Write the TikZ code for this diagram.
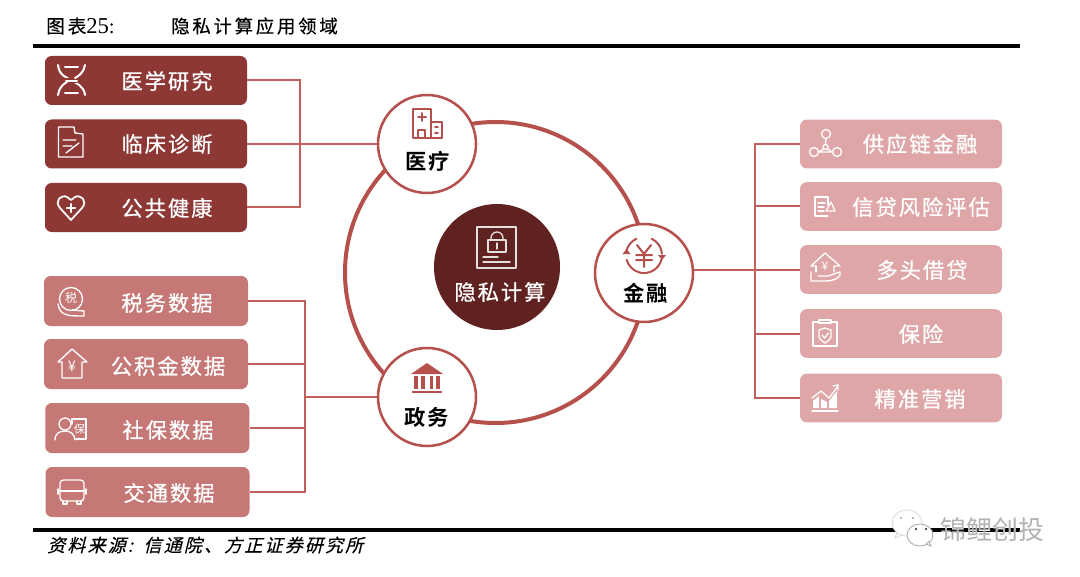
\documentclass[tikz,border=0pt]{standalone}
\usepackage{fontspec}
\setmainfont{Noto Sans CJK SC}
\newfontfamily\boxfont[LetterSpace=9,FakeBold=0.7]{Noto Sans CJK SC}
\newfontfamily\lblfont[LetterSpace=8,BoldFont={Noto Sans CJK SC Bold}]{Noto Sans CJK SC}
\newfontfamily\ttlfont[LetterSpace=15,FakeBold=0.3]{Noto Sans CJK SC}
\newfontfamily\srcfont[LetterSpace=12,FakeSlant=0.25,FakeBold=0.3]{Noto Sans CJK SC}
\newfontfamily\serfont{Liberation Serif}
\definecolor{darkbox}{HTML}{8E3836}
\definecolor{midbox}{HTML}{C57875}
\definecolor{lightbox}{HTML}{DFA6A7}
\definecolor{corecol}{HTML}{5F2220}
\definecolor{linecol}{HTML}{C0605C}
\definecolor{ringcol}{HTML}{B5504C}
\tikzset{
  boxbase/.style={rectangle,rounded corners=5pt,inner sep=0pt,minimum width=151.5pt},
  darkb/.style={boxbase,fill=darkbox,minimum height=36.75pt},
  midb/.style={boxbase,fill=midbox,minimum height=37.5pt,minimum width=153pt},
  lightb/.style={boxbase,fill=lightbox,minimum height=36.4pt},
  boxtext/.style={text=white,inner sep=0pt,font=\fontsize{16}{16}\boxfont},
  hub/.style={circle,draw=ringcol,line width=1.9pt,fill=white,minimum size=73.5pt,inner sep=0pt},
  hubtext/.style={text=black,inner sep=0pt,font=\fontsize{16}{16}\lblfont\bfseries},
  conn/.style={draw=linecol,line width=1.5pt},
  ic/.style={draw=white,line width=1pt,line cap=round,line join=round},
  icr/.style={draw=ringcol,line width=1.2pt,line cap=round,line join=round},
  rulel/.style={draw=black,line width=2.6pt},
}
\begin{document}
\begin{tikzpicture}[x=0.75pt,y=-0.75pt]
\useasboundingbox (0,0) rectangle (1080,577);
\fill[white] (0,0) rectangle (1080,577);
% header and footer
\coordinate (r1a) at (33,46); \coordinate (r1b) at (1020,46);
\coordinate (r2a) at (33,530); \coordinate (r2b) at (1020,530);
\draw[rulel] (r1a) -- (r1b);
\draw[rulel] (r2a) -- (r2b);
\node[anchor=west,inner sep=0pt,font=\fontsize{14}{14}\ttlfont] (ttl1) at (46,26) {图表{\serfont\fontsize{17}{17}\selectfont 25}:};
\node[anchor=west,inner sep=0pt,font=\fontsize{13.8}{13.8}\ttlfont] (ttl2) at (171,26) {隐私计算应用领域};
\node[anchor=west,inner sep=0pt,font=\fontsize{13.5}{13.5}\srcfont] (src) at (47,545) {资料来源:\hspace{8pt}信通院、方正证券研究所};
% ring
\node[circle,draw=ringcol,line width=3pt,minimum size=225.75pt,inner sep=0pt] (ring) at (495.5,272.5) {};
% hubs
\node[circle,fill=corecol,minimum size=94.5pt,inner sep=0pt] (core) at (497,267) {};
\node[hub] (med) at (427,144) {};
\node[hub] (fin) at (644,273) {};
\node[hub] (gov) at (427,397) {};
\node[text=white,inner sep=0pt,font=\fontsize{16}{16}\boxfont] (coret) at (500,292) {隐私计算};
\node[hubtext] (medt) at (428,161) {医疗};
\node[hubtext] (fint) at (646,293) {金融};
\node[hubtext] (govt) at (427,417) {政务};
% left top boxes
\node[darkb] (b1) at (146,80.5) {};
\node[darkb] (b2) at (146,144) {};
\node[darkb] (b3) at (146,207.5) {};
\node[boxtext] (b1t) at (167,81) {医学研究};
\node[boxtext] (b2t) at (167,144) {临床诊断};
\node[boxtext] (b3t) at (167,208) {公共健康};
% left bottom boxes
\node[midb] (g1) at (146,301) {};
\node[midb] (g2) at (146,364) {};
\node[midb] (g3) at (147.25,428) {};
\node[midb] (g4) at (147.5,492) {};
\node[boxtext] (g1t) at (167,303) {税务数据};
\node[boxtext] (g2t) at (168,366) {公积金数据};
\node[boxtext] (g3t) at (168,430) {社保数据};
\node[boxtext] (g4t) at (169,493) {交通数据};
% right boxes
\node[lightb] (f1) at (901,144) {};
\node[lightb] (f2) at (901,206.5) {};
\node[lightb] (f3) at (901,269.5) {};
\node[lightb] (f4) at (901,333.5) {};
\node[lightb] (f5) at (901,398) {};
\node[boxtext] (f1t) at (920,144) {供应链金融};
\node[boxtext] (f2t) at (921,207) {信贷风险评估};
\node[boxtext] (f3t) at (922,270) {多头借贷};
\node[boxtext] (f4t) at (921,334) {保险};
\node[boxtext] (f5t) at (920,399) {精准营销};
% connectors
\coordinate (busM) at (300,144);
\coordinate (busG) at (305,397);
\coordinate (busF) at (755,269.5);
\draw[conn] (b1.east) -| (busM);
\draw[conn] (b3.east) -| (busM);
\draw[conn] (b2.east) -- (med);
\draw[conn] (g1.east) -| (busG);
\draw[conn] (g4.east) -| (busG);
\draw[conn] (g2.east) -- (g2.east -| busG);
\draw[conn] (g3.east) -- (g3.east -| busG);
\draw[conn] (busG) -- (gov);
\draw[conn] (f1.west) -| (busF);
\draw[conn] (f5.west) -| (busF);
\draw[conn] (f2.west) -- (f2.west -| busF);
\draw[conn] (f4.west) -- (f4.west -| busF);
\draw[conn] (f3.west) -- (f3.west -| fin.4);
% ---- icons: dark boxes
\draw[ic,line width=1.5pt] (58,65) .. controls (59,76) and (68,78) .. (71,80) .. controls (76,83) and (84,86) .. (85,95);
\draw[fill=darkbox,draw=none] (65,78) rectangle (77,83);
\draw[ic,line width=1.5pt] (85,65) .. controls (84,72) and (79,76) .. (75,78);
\draw[ic,line width=1.5pt] (58,95) .. controls (59,88) and (63,84) .. (67,82);
\draw[ic,line width=1.5pt] (65,67) -- (78,67);
\draw[ic,line width=1.5pt] (66,81) -- (77,81);
\draw[ic,line width=1.5pt] (65,93) -- (78,93);
\draw[ic] (58.5,127) -- (74,127) -- (75,133) -- (83,134) -- (83,157) -- (58.5,157) -- cycle;
\draw[ic] (63,140) -- (76,140) (63,146) -- (72,146) (66,153) -- (79,143);
\draw[ic,line width=1.3pt] (71,220) -- (60,208) .. controls (54,201) and (61,194) .. (67,197) -- (71,200) -- (75,197) .. controls (81,194) and (88,201) .. (82,208) -- cycle;
\draw[ic,line width=1.6pt] (71,204) -- (71,212) (67,208) -- (75,208);
% ---- icons: mid boxes
\draw[ic] (71,299) circle[radius=11.5];
\node[text=white,inner sep=0pt,font=\fontsize{9}{9}\selectfont] (ictax) at (71,298) {税};
\draw[ic] (58,304) .. controls (60,316) and (68,316) .. (84,316) -- (84,311) -- (72,310);
\draw[ic] (62,362) -- (58,362) -- (72,349) -- (87,362) -- (82,362) -- (82,378) -- (62,378) -- cycle;
\node[text=white,inner sep=0pt,font=\fontsize{11}{11}\selectfont] (ichouse) at (72,366) {¥};
\draw[ic] (65,424) circle[radius=6];
\draw[ic] (55,440) .. controls (55,433) and (60,431) .. (65,431) .. controls (70,431) and (74,433) .. (75,440);
\draw[ic] (72,419) -- (86,419) -- (86,439) -- (76,439);
\draw[ic] (72,419) -- (72,424);
\node[text=white,inner sep=0pt,font=\fontsize{8.5}{8.5}\selectfont] (icbao) at (79.5,429) {保};
\draw[ic,rounded corners=2.5pt] (60,480) rectangle (84,501);
\draw[ic] (60,491) -- (84,491) (58,489) -- (58,494) (86,489) -- (86,494) (63,501) -- (63,504) -- (67,504) -- (67,501) (77,501) -- (77,504) -- (81,504) -- (81,501);
% ---- icons: light boxes
\draw[ic] (826,134) circle[radius=4.5] (814,152) circle[radius=4.5] (837,152) circle[radius=4.5] (825.5,147) circle[radius=2.5];
\draw[ic] (826,138.5) -- (825.5,144.5) (818.5,152) -- (832.5,152) (823.5,149) -- (819,152) (827.5,149) -- (832,152);
\draw[ic] (828,205) -- (828,197) -- (815,197) -- (815,216) -- (828,216);
\draw[ic] (818,203) -- (825,203) (818,207) -- (824,207) (818,211) -- (824,211);
\draw[ic] (826,211) -- (831,202) -- (835,211) -- cycle;
\draw[ic] (816,266) -- (811,266) -- (825,253) -- (840,266) -- (834,266) -- (834,272);
\draw[ic] (816,266) -- (816,272);
\draw[ic] (811,272) -- (811,281) -- (826,281) .. controls (832,281) and (838,279) .. (840,275) -- (840,272) -- (828,276) -- (818,276);
\node[text=white,inner sep=0pt,font=\fontsize{9}{9}\selectfont] (ichh) at (825,266) {¥};
\draw[ic] (819,322) -- (813,322) -- (813,346) -- (837,346) -- (837,322) -- (831,322);
\draw[ic] (819,320) rectangle (831,323);
\draw[ic] (825,328) -- (831,330) -- (831,336) .. controls (831,339) and (828,341) .. (825,343) .. controls (822,341) and (819,339) .. (819,336) -- (819,330) -- cycle;
\draw[ic] (822,335) -- (824.5,338) -- (828.5,333);
\fill[white] (813,408) -- (813,401) -- (819,396) -- (819,408) -- cycle;
\fill[white] (821,408) -- (821,399) -- (827,402) -- (827,408) -- cycle;
\fill[white] (829,408) -- (829,401) -- (837,391) -- (837,408) -- cycle;
\draw[ic] (812,398) -- (821,391) -- (829,398) -- (838,386);
\draw[ic] (833,386) -- (838,385) -- (838,390);
\draw[ic] (812,411) -- (838,411);
% ---- hub icons
\draw[icr] (413,109) rectangle (431,138);
\draw[icr] (431,122) rectangle (442,138);
\draw[icr,line width=1.5pt] (422,113) -- (422,121) (418,117) -- (426,117);
\draw[icr] (418,138) -- (418,130) -- (425,130) -- (425,138);
\draw[icr] (435,127) -- (438,127) (435,133) -- (438,133);
\fill[ringcol] (411,374) -- (427,363) -- (443,374) -- cycle;
\fill[ringcol] (412,390.5) rectangle (442,393);
\fill[ringcol] (414,376) rectangle (418,389);
\fill[ringcol] (421,376) rectangle (424.5,389);
\fill[ringcol] (429.5,376) rectangle (433,389);
\fill[ringcol] (436,376) rectangle (440,389);
\draw[icr,line width=1.5pt] (626.3,251.9) arc[start angle=190,end angle=245,radius=18];
\draw[icr,line width=1.5pt] (651.6,238.7) arc[start angle=295,end angle=356,radius=18];
\draw[icr,line width=1.5pt] (661.4,259.7) arc[start angle=15,end angle=165,radius=18];
\fill[ringcol] (622.5,254) -- (630.5,254) -- (626.5,249) -- cycle;
\fill[ringcol] (658,255) -- (666,255) -- (662,260) -- cycle;
\draw[icr,line width=1.5pt] (637,245) -- (644,254) -- (651,245) (644,254) -- (644,267) (636,255) -- (652,255) (636,260) -- (652,260);
% lock icon
\draw[ic,draw=white!85!corecol] (477,227) rectangle (516,268);
\draw[ic,draw=white!85!corecol] (488,240) rectangle (506,252);
\draw[ic,draw=white!85!corecol] (491,240) -- (491,238) arc[start angle=180,end angle=360,radius=6] -- (503,240);
\draw[ic,draw=white!85!corecol] (497,243) -- (497,249) (483,257) -- (498,257) (483,262) -- (510,262);
% watermark
\path[fill=white,draw=black!15,line width=.6pt] (907,523) ellipse[x radius=15,y radius=13];
\path[fill=white,draw=black!15,line width=.6pt] (897,533) -- (895,538) -- (902,535) -- cycle;
\fill[black!35] (901,518) circle[radius=1.1] (913,518) circle[radius=1.1];
\path[fill=white,draw=black!35,line width=.6pt] (920,535) ellipse[x radius=13,y radius=11];
\path[fill=white,draw=black!35,line width=.6pt] (926,544) -- (931,546) -- (929,541.5) -- cycle;
\fill[black!70] (916,529) circle[radius=1.3] (926,529) circle[radius=1.3];
\node[text=white,inner sep=0pt,font=\fontsize{19.5}{19.5}\selectfont] (wms) at (992.7,531) {锦鲤创投};
\node[text=black!40,inner sep=0pt,font=\fontsize{19.5}{19.5}\selectfont,opacity=.75] (wm) at (992,530) {锦鲤创投};
\end{tikzpicture}
\end{document}
